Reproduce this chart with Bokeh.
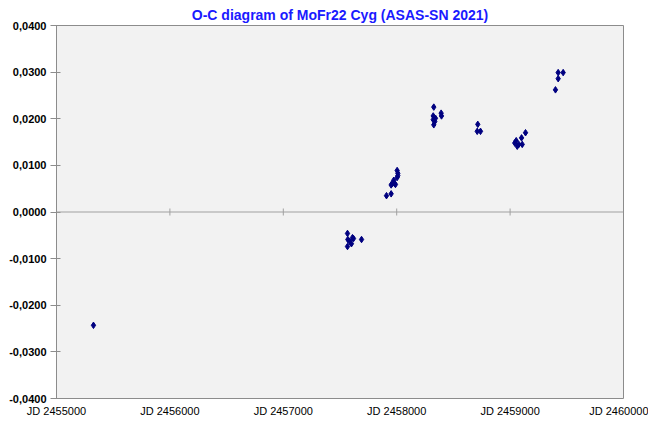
import math
from bokeh.plotting import figure
from bokeh.models import LinearAxis, FixedTicker, Range1d, ColumnDataSource, Span
from bokeh.embed import file_html
from bokeh.resources import INLINE

# O-C data (JD, O-C days)
jd = [2455326,
      2457566, 2457569, 2457584, 2457601, 2457610, 2457619, 2457690, 2457566,
      2457910, 2457951, 2457960, 2457974, 2457981, 2457989, 2458004, 2458010, 2458010, 2458004, 2457951,
      2458327, 2458322, 2458342, 2458322, 2458336, 2458327, 2458392, 2458395,
      2458715, 2458710, 2458739,
      2459136, 2459101, 2459054, 2459041, 2459077, 2459063, 2459107,
      2459424, 2459468, 2459424, 2459400]
oc = [-0.0243,
      -0.0046, -0.0059, -0.0063, -0.0068, -0.0055, -0.0057, -0.0059, -0.0074,
      0.0035, 0.0039, 0.0061, 0.0068, 0.0061, 0.0059, 0.0089, 0.0083, 0.0078, 0.0074, 0.0058,
      0.0225, 0.0206, 0.0201, 0.0198, 0.0194, 0.0187, 0.0212, 0.0206,
      0.0188, 0.0173, 0.0173,
      0.0170, 0.0159, 0.0153, 0.0148, 0.0145, 0.0141, 0.0145,
      0.0299, 0.0299, 0.0286, 0.0262]

x_ticks = [2455000, 2456000, 2457000, 2458000, 2459000, 2460000]
x_labels = ["JD 2455000", "JD 2456000", "JD 2457000", "JD 2458000", "JD 2459000", "JD 2460000"]
y_ticks = [-0.04, -0.03, -0.02, -0.01, 0.0, 0.01, 0.02, 0.03, 0.04]
y_labels = ["-0,0400", "-0,0300", "-0,0200", "-0,0100", "0,0000", "0,0100", "0,0200", "0,0300", "0,0400"]
y_min, y_max = -0.04, 0.04

p = figure(frame_width=567, frame_height=373, output_backend="svg", toolbar_location=None,
           x_range=Range1d(x_ticks[0], x_ticks[-1]), y_range=Range1d(y_min, y_max),
           x_axis_location=None, y_axis_location=None,
           title="O-C diagram of MoFr22 Cyg (ASAS-SN 2021)")
p.min_border_left = 56
p.min_border_right = 25
p.min_border_top = 25
p.min_border_bottom = 23
p.background_fill_color = "#f2f2f2"
p.border_fill_color = "white"
p.outline_line_color = "#8c8c8c"
p.outline_line_width = 1
p.xgrid.visible = False
p.ygrid.visible = False

p.title.text_font = "Liberation Sans"
p.title.text_font_size = "14px"
p.title.text_font_style = "bold"
p.title.text_color = "#1a1aff"
p.title.align = "center"
p.title.offset = 6
p.title.standoff = 5

# left value axis
yax = LinearAxis(ticker=FixedTicker(ticks=y_ticks),
                 major_label_overrides={t: l for t, l in zip(y_ticks, y_labels)})
yax.axis_line_color = "#8c8c8c"
yax.major_tick_line_color = "#8c8c8c"
yax.major_tick_in = 4
yax.major_tick_out = 6
yax.minor_tick_line_color = None
yax.major_label_text_font = "Liberation Sans"
yax.major_label_text_font_size = "11px"
yax.major_label_text_font_style = "bold"
yax.major_label_text_color = "black"
yax.major_label_standoff = 4
p.add_layout(yax, "left")

# horizontal axis line crossing at zero, with its tick marks
p.add_layout(Span(location=0, dimension="width", line_color="#a0a0a0", line_width=1))
p.scatter(x=x_ticks[1:-1], y=[0.0] * (len(x_ticks) - 2), marker="dash", angle=math.pi / 2,
          size=7, line_color="#a0a0a0", line_width=1)

# labels of the horizontal axis, placed low (below the plot area)
xax = LinearAxis(ticker=FixedTicker(ticks=x_ticks),
                 major_label_overrides={t: l for t, l in zip(x_ticks, x_labels)})
xax.axis_line_color = None
xax.major_tick_line_color = None
xax.minor_tick_line_color = None
xax.major_tick_in = 0
xax.major_tick_out = 0
xax.major_label_text_font = "Liberation Sans"
xax.major_label_text_font_size = "11px"
xax.major_label_text_color = "black"
xax.major_label_standoff = 6
p.add_layout(xax, "below")

src = ColumnDataSource(dict(x=jd, y=oc))
p.scatter("x", "y", source=src, marker="diamond", size=6.5, fill_color="#000080", line_color="#000080")

open("out.html", "w").write(file_html(p, INLINE))
